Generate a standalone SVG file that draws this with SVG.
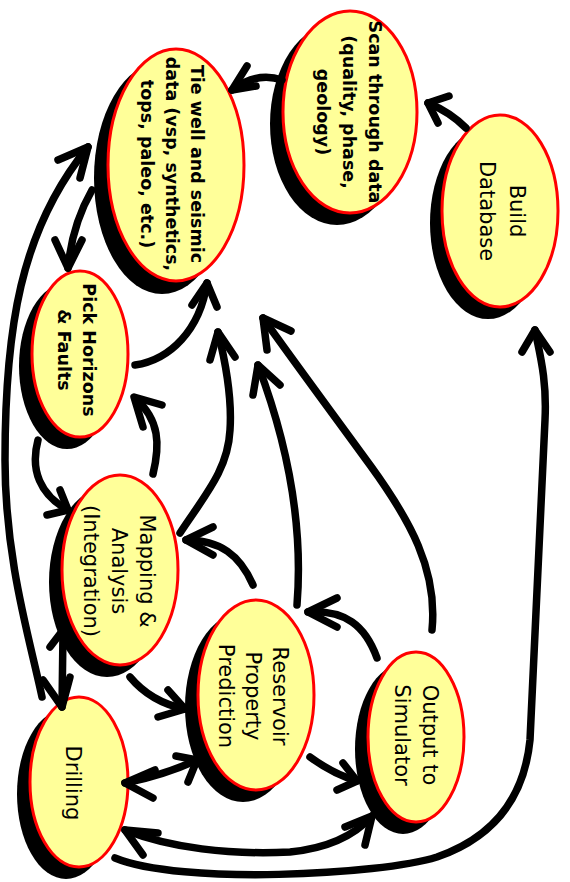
<svg xmlns="http://www.w3.org/2000/svg" width="570" height="882" viewBox="0 0 570 882">
<style>
.sh{fill:#000}
.nd{fill:#FFFF99;stroke:#FF0000;stroke-width:3}
.tb{font-family:"DejaVu Sans",sans-serif;font-weight:bold;font-size:17.5px;fill:#000;text-anchor:middle;dominant-baseline:central}
.tr{font-family:"DejaVu Sans",sans-serif;font-size:21px;fill:#000;text-anchor:middle;dominant-baseline:central}
.ln{fill:none;stroke:#000;stroke-width:7.5;stroke-linecap:round;stroke-linejoin:round}
</style>
<rect width="570" height="882" fill="#fff"/>
<g id="scan">
<ellipse class="sh" cx="337" cy="124" rx="67" ry="101"/>
<ellipse class="nd" cx="350" cy="112" rx="67" ry="101"/>
<g transform="translate(349,112) rotate(90)">
<text class="tb" x="0" y="-26">Scan through data</text>
<text class="tb" x="0" y="0">(quality, phase,</text>
<text class="tb" x="0" y="26">geology)</text>
</g>
</g>
<g id="tie">
<ellipse class="sh" cx="162" cy="178" rx="68" ry="116"/>
<ellipse class="nd" cx="176" cy="165" rx="68" ry="116"/>
<g transform="translate(172,164) rotate(90)">
<text class="tb" x="0" y="-25">Tie well and seismic</text>
<text class="tb" x="0" y="0">data (vsp, synthetics,</text>
<text class="tb" x="0" y="25">tops, paleo, etc.)</text>
</g>
</g>
<g id="build">
<ellipse class="sh" cx="488" cy="223" rx="58" ry="96"/>
<ellipse class="nd" cx="500" cy="211" rx="58" ry="96"/>
<g transform="translate(502,211) rotate(90)">
<text class="tr" x="0" y="-15">Build</text>
<text class="tr" x="0" y="15">Database</text>
</g>
</g>
<g id="pick">
<ellipse class="sh" cx="67" cy="366" rx="48" ry="83"/>
<ellipse class="nd" cx="80" cy="354" rx="48" ry="83"/>
<g transform="translate(76,350) rotate(90)">
<text class="tb" x="0" y="-12.5">Pick Horizons</text>
<text class="tb" x="0" y="12.5">&amp; Faults</text>
</g>
</g>
<g id="mapping">
<ellipse class="sh" cx="107" cy="582" rx="58" ry="95"/>
<ellipse class="nd" cx="120" cy="570" rx="58" ry="95"/>
<g transform="translate(119,571) rotate(90)">
<text class="tr" x="0" y="-28">Mapping &amp;</text>
<text class="tr" x="0" y="0">Analysis</text>
<text class="tr" x="0" y="28">(Integration)</text>
</g>
</g>
<g id="reservoir">
<ellipse class="sh" cx="243" cy="707" rx="58" ry="95"/>
<ellipse class="nd" cx="256" cy="695" rx="58" ry="95"/>
<g transform="translate(253,696) rotate(90)">
<text class="tr" x="0" y="-27">Reservoir</text>
<text class="tr" x="0" y="0">Property</text>
<text class="tr" x="0" y="27">Prediction</text>
</g>
</g>
<g id="output">
<ellipse class="sh" cx="403" cy="749" rx="48" ry="85"/>
<ellipse class="nd" cx="416" cy="737" rx="48" ry="85"/>
<g transform="translate(416,735) rotate(90)">
<text class="tr" x="0" y="-14">Output to</text>
<text class="tr" x="0" y="14">Simulator</text>
</g>
</g>
<g id="drilling">
<ellipse class="sh" cx="66" cy="794" rx="49" ry="85"/>
<ellipse class="nd" cx="79" cy="782" rx="49" ry="85"/>
<g transform="translate(73,783) rotate(90)">
<text class="tr" x="0" y="0">Drilling</text>
</g>
</g>
<g id="connectors">
<path class="ln" d="M466,128 Q450,112 428,103"/>
<path class="ln" d="M438,123 L428,103 L449,96"/>
<path class="ln" d="M282,80 C265,74 248,78 232,90"/>
<path class="ln" d="M247,66 L232,90 L256,86"/>
<path class="ln" d="M92,190 Q72,225 68,268"/>
<path class="ln" d="M55,240 L68,268 L82,240"/>
<path class="ln" d="M135,365 C170,360 200,330 207,283"/>
<path class="ln" d="M192,305 L207,283 L217,307"/>
<path class="ln" d="M153,474 C160,445 160,420 135,398"/>
<path class="ln" d="M143,427 L134,397 L162,405"/>
<path class="ln" d="M38,440 C30,470 40,495 68,510"/>
<path class="ln" d="M60,490 L68,510 L47,515"/>
<path class="ln" d="M253,585 C240,555 220,540 186,540"/>
<path class="ln" d="M213,527 L186,540 L213,555"/>
<path class="ln" d="M180,533 C205,495 228,470 230,430 C232,400 225,360 218,332"/>
<path class="ln" d="M210,360 L218,332 L235,357"/>
<path class="ln" d="M297,605 C303,530 290,450 258,365"/>
<path class="ln" d="M253,395 L258,365 L280,385"/>
<path class="ln" d="M432,630 C438,570 410,520 370,465 C330,410 300,370 263,318"/>
<path class="ln" d="M267,350 L263,318 L291,331"/>
<path class="ln" d="M377,658 C365,625 345,610 308,612"/>
<path class="ln" d="M337,598 L308,612 L337,627"/>
<path class="ln" d="M130,677 C145,695 165,705 185,709"/>
<path class="ln" d="M168,690 L185,709 L158,717"/>
<path class="ln" d="M125,783 C150,778 175,770 197,760"/>
<path class="ln" d="M155,770 L125,783 L153,798"/>
<path class="ln" d="M176,756 L197,760 L188,782"/>
<path class="ln" d="M310,757 C325,768 340,776 357,781"/>
<path class="ln" d="M343,763 L357,781 L337,790"/>
<path class="ln" d="M125,830 C170,848 230,855 290,852 C330,848 355,835 372,816"/>
<path class="ln" d="M158,833 L125,830 L143,855"/>
<path class="ln" d="M345,827 L372,816 L365,845"/>
<path class="ln" d="M115,858 C180,885 380,875 437,857 C500,835 525,790 530,740 L545,420 C547,380 540,355 535,330"/>
<path class="ln" d="M522,352 L535,330 L550,352"/>
<path class="ln" d="M42,697 C30,640 5,560 5,460 C5,330 20,230 88,147"/>
<path class="ln" d="M58,160 L88,147 L80,178"/>
<path class="ln" d="M63,632 L62,707"/>
<path class="ln" d="M50,647 L63,630 L73,645"/>
<path class="ln" d="M43,680 L62,707 L70,677"/>
</g>
</svg>
